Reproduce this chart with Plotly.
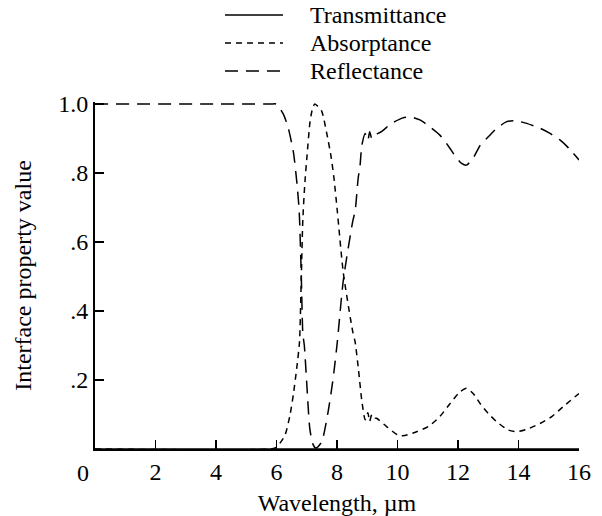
import plotly.graph_objects as go

# Wavelength (um) and property values
wl_R = [0, 5.8, 6.0, 6.23, 6.39, 6.56, 6.67, 6.75, 6.82, 6.87, 6.92, 7.0, 7.1, 7.2, 7.3,
        7.49, 7.71, 7.88, 8.01, 8.21, 8.52, 8.6, 8.7, 8.76, 8.82, 8.93, 9.02, 9.08, 9.15,
        9.25, 9.47, 9.8, 10.18, 10.4, 10.74, 11.07, 11.4, 11.67, 11.9, 12.12, 12.28, 12.5,
        12.73, 13.0, 13.28, 13.61, 13.88, 14.27, 14.71, 15.04, 15.37, 15.65, 16.0]
reflectance = [1.0, 1.0, 1.0, 0.97, 0.93, 0.86, 0.775, 0.69, 0.5, 0.335, 0.3, 0.19, 0.06, 0.015, 0.003,
               0.02, 0.11, 0.21, 0.31, 0.49, 0.66, 0.69, 0.785, 0.82, 0.88, 0.915, 0.895, 0.92, 0.9,
               0.91, 0.92, 0.944, 0.96, 0.963, 0.954, 0.934, 0.91, 0.88, 0.85, 0.828, 0.823, 0.843,
               0.88, 0.905, 0.93, 0.949, 0.952, 0.944, 0.93, 0.915, 0.896, 0.873, 0.838]

wl_A = [0, 5.8, 6.0, 6.28, 6.45, 6.56, 6.67, 6.76, 6.82, 6.87, 6.94, 7.0, 7.11, 7.2, 7.27,
        7.49, 7.65, 7.8, 7.9, 8.01, 8.21, 8.52, 8.6, 8.71, 8.82, 8.93, 9.02, 9.08, 9.15,
        9.25, 9.31, 9.64, 10.02, 10.24, 10.63, 11.02, 11.4, 11.74, 12.07, 12.28, 12.5,
        12.73, 13.0, 13.28, 13.66, 13.94, 14.27, 14.71, 15.1, 15.48, 16.0]
absorptance = [0.0, 0.0, 0.005, 0.04, 0.1, 0.16, 0.235, 0.31, 0.5, 0.665, 0.775, 0.84, 0.95, 0.99, 1.0,
               0.98, 0.92, 0.85, 0.785, 0.69, 0.51, 0.34, 0.31, 0.23, 0.14, 0.085, 0.105, 0.08, 0.1,
               0.09, 0.089, 0.065, 0.04, 0.039, 0.05, 0.065, 0.094, 0.132, 0.166, 0.176, 0.161,
               0.132, 0.103, 0.079, 0.055, 0.05, 0.057, 0.074, 0.094, 0.123, 0.161]

wl_T = [0, 16]
transmittance = [0.0, 0.0]

series_names = ["Transmittance", "Absorptance", "Reflectance"]
x_ticks = [2, 4, 6, 8, 10, 12, 14, 16]
x_ticktext = ["2", "4", "6", "8", "10", "12", "14", "16"]
y_ticks = [0.2, 0.4, 0.6, 0.8, 1.0]
y_ticktext = [".2", ".4", ".6", ".8", "1.0"]

FONT = "Liberation Serif, Times New Roman, serif"
FS = 24
W, H = 602, 516
ML, MR, MT, MB = 95, 23, 102, 67
PW, PH = W - ML - MR, H - MT - MB

dashes = ["solid", "6px,5px", "13px,8px"]

fig = go.Figure()
for name, xs, ys, dash in zip(series_names, [wl_T, wl_A, wl_R],
                              [transmittance, absorptance, reflectance], dashes):
    line = dict(color="black", width=1.5, dash=dash)
    if dash != "solid":
        line.update(shape="spline", smoothing=0.6)
    fig.add_trace(go.Scatter(x=xs, y=ys, mode="lines", name=name, line=line, showlegend=False))

def px_x(p):
    return (p - ML) / PW

def px_y(p):
    return (H - MB - p) / PH

# Hand-drawn legend (line sample + label), positioned in paper coordinates
shapes = []
annotations = []
rows_y = [15, 43, 71]
for name, dash, ry in zip(series_names, dashes, rows_y):
    shapes.append(dict(type="line", xref="paper", yref="paper",
                       x0=px_x(225), x1=px_x(283), y0=px_y(ry), y1=px_y(ry),
                       line=dict(color="black", width=1.5, dash=dash)))
    annotations.append(dict(text=name, xref="paper", yref="paper", x=px_x(308), y=px_y(ry),
                            xanchor="left", yanchor="middle", showarrow=False,
                            font=dict(family=FONT, size=FS, color="black")))

# the origin label sits left of the y axis in the reference
annotations.append(dict(text="0", x=px_x(83), y=px_y(473), xref="paper", yref="paper",
                        xanchor="center", yanchor="middle", showarrow=False,
                        font=dict(family=FONT, size=FS, color="black")))

fig.update_layout(
    width=W, height=H,
    margin=dict(l=ML, r=MR, t=MT, b=MB, autoexpand=False),
    paper_bgcolor="white", plot_bgcolor="white",
    font=dict(family=FONT, size=FS, color="black"),
    showlegend=False,
    xaxis=dict(range=[0, 16], tickvals=x_ticks, ticktext=x_ticktext,
               ticks="inside", ticklen=9, tickwidth=1.5, tickcolor="black",
               showline=True, linecolor="black", linewidth=2, showgrid=False, zeroline=False,
               automargin=False,
               title=dict(text="Wavelength, \u00b5m", font=dict(family=FONT, size=FS), standoff=10)),
    yaxis=dict(range=[0, 1.006], tickvals=y_ticks, ticktext=y_ticktext,
               ticks="inside", ticklen=9, tickwidth=1.5, tickcolor="black",
               showline=True, linecolor="black", linewidth=2, showgrid=False, zeroline=False,
               automargin=False,
               title=dict(text="Interface property value", font=dict(family=FONT, size=FS), standoff=20)),
    shapes=shapes,
    annotations=annotations,
)

fig.write_html("out.html", config={"displayModeBar": False, "staticPlot": True},
               post_script="document.body.style.margin='0';document.body.style.overflow='hidden';")
